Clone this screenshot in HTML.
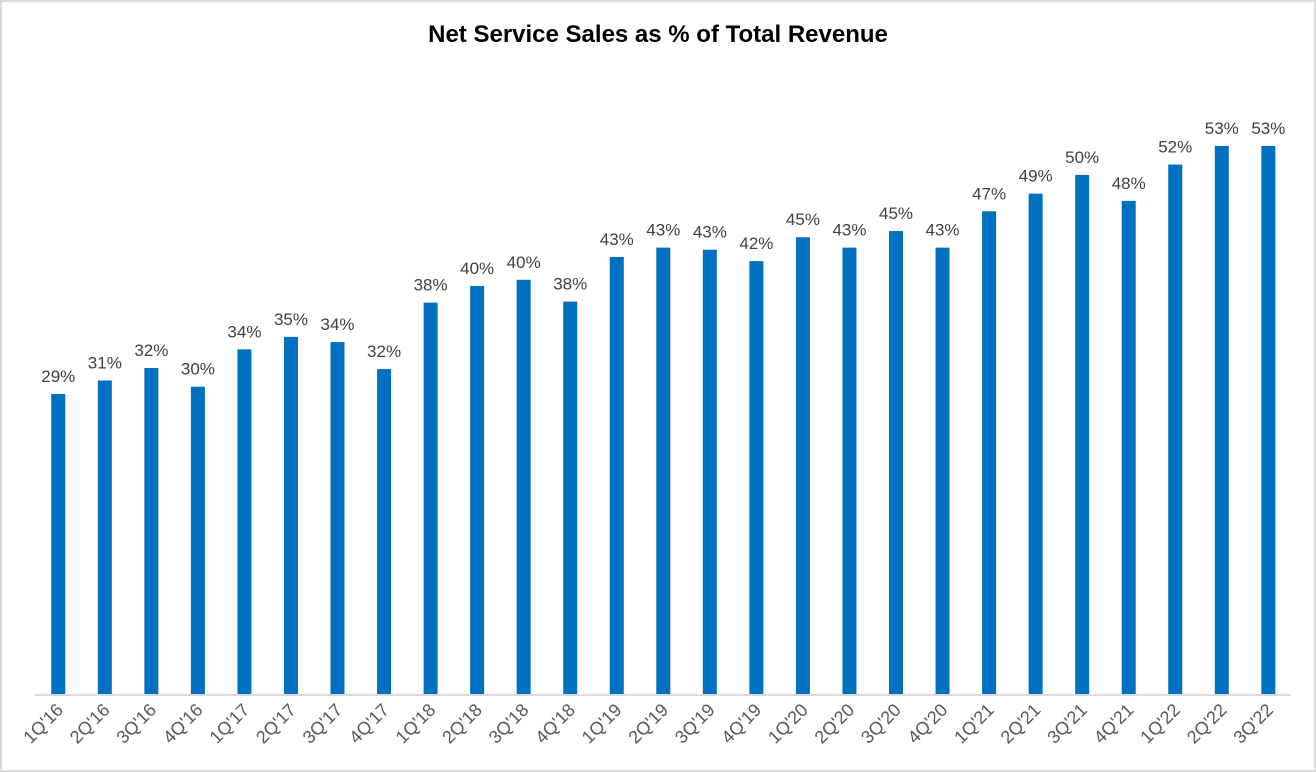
<!DOCTYPE html>
<html><head><meta charset="utf-8"><style>
html,body{margin:0;padding:0;background:#fff;}
svg{display:block;font-family:"Liberation Sans",Arial,sans-serif;}
</style></head><body>
<svg id="chart" width="1316" height="772">
<rect x="1" y="1" width="1314" height="770" fill="#fff" stroke="#d9d9d9" stroke-width="2"/>
<text x="658" y="42" text-anchor="middle" font-size="24" font-weight="bold" fill="#000">Net Service Sales as % of Total Revenue</text>
<g id="bars"></g>
<line x1="35" y1="695" x2="1291" y2="695" stroke="#d9d9d9" stroke-width="2"/>
</svg>
<script>
const categories = ["1Q'16","2Q'16","3Q'16","4Q'16","1Q'17","2Q'17","3Q'17","4Q'17","1Q'18","2Q'18","3Q'18","4Q'18","1Q'19","2Q'19","3Q'19","4Q'19","1Q'20","2Q'20","3Q'20","4Q'20","1Q'21","2Q'21","3Q'21","4Q'21","1Q'22","2Q'22","3Q'22"];
const values = [29.0,30.3,31.5,29.7,33.3,34.5,34.0,31.4,37.8,39.4,40.0,37.9,42.2,43.1,42.9,41.8,44.1,43.1,44.7,43.1,46.6,48.3,50.1,47.6,51.1,52.9,52.9];
const valueLabels = ["29%","31%","32%","30%","34%","35%","34%","32%","38%","40%","40%","38%","43%","43%","43%","42%","45%","43%","45%","43%","47%","49%","50%","48%","52%","53%","53%"];

const NS = "http://www.w3.org/2000/svg";
const plotLeft = 35, plotRight = 1291.6, baseY = 695, pxPerUnit = 10.38;
const band = (plotRight - plotLeft) / categories.length;
const xCenter = i => plotLeft + band * (i + 0.5);
const yScale = v => baseY - v * pxPerUnit;
const g = document.getElementById('bars');
const barW = 14;
categories.forEach((c, i) => {
  const cx = xCenter(i), y = yScale(values[i]);
  const r = document.createElementNS(NS, 'rect');
  r.setAttribute('x', cx - barW / 2);
  r.setAttribute('y', y);
  r.setAttribute('width', barW);
  r.setAttribute('height', baseY - y);
  r.setAttribute('fill', '#0070c0');
  
  
  g.appendChild(r);
  const t = document.createElementNS(NS, 'text');
  t.setAttribute('x', cx);
  t.setAttribute('y', y - 12);
  t.setAttribute('text-anchor', 'middle');
  t.setAttribute('font-size', '17');
  t.setAttribute('fill', '#404040');
  t.textContent = valueLabels[i];
  
  
  g.appendChild(t);
  const xl = document.createElementNS(NS, 'text');
  xl.setAttribute('transform', 'translate(' + (cx + 6) + ',' + 711 + ') rotate(-45)');
  xl.setAttribute('text-anchor', 'end');
  xl.setAttribute('font-size', '18');
  xl.setAttribute('fill', '#595959');
  xl.textContent = c;
  
  
  g.appendChild(xl);
});
</script>
</body></html>
